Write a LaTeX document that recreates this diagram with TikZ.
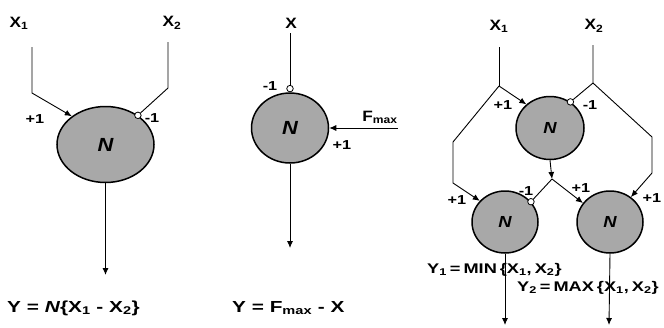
\documentclass[tikz,border=0pt]{standalone}
\usepackage{fontspec}
\setmainfont{Liberation Sans}[FakeStretch=1.15]
\usetikzlibrary{positioning,arrows.meta,shapes.geometric}
\definecolor{cellgray}{RGB}{168,168,168}
\newcommand{\subix}[1]{\textsubscript{#1}}
\newcommand{\tsp}{\hspace{3pt}}
\begin{document}
\begin{tikzpicture}[x=1pt,y=-1pt,>={Latex[length=7pt,width=6pt]},
  neuron/.style={ellipse,draw,line width=1.5pt,fill=cellgray,inner sep=0pt,font=\bfseries\itshape\fontsize{19}{19}\selectfont},
  small/.style={font=\bfseries\itshape\fontsize{16}{16}\selectfont},
  inh/.style={circle,draw,fill=white,line width=0.8pt,minimum size=6.5pt,inner sep=0pt},
  wt/.style={font=\bfseries\fontsize{13}{13}\selectfont\addfontfeature{FakeStretch=1.25},inner sep=0pt},
  sig/.style={font=\bfseries\fontsize{15}{15}\selectfont,inner sep=0pt},
  eqn/.style={font=\bfseries\fontsize{16}{16}\selectfont\addfontfeature{FakeStretch=1.3},inner sep=0pt,anchor=west},
  res/.style={font=\bfseries\fontsize{14}{14}\selectfont\addfontfeature{FakeStretch=1.3},inner sep=0pt,anchor=west},
  wire/.style={line width=0.9pt}]
\useasboundingbox[fill=white] (0,0) rectangle (664,327);
\node[sig] (xa) at (19,23) {X\subix1};
\node[sig] (xb) at (172,23) {X\subix2};
\node[neuron,minimum width=97pt,minimum height=76pt] (na) at (105.5,144.5) {N};
\node[inh] (ia) at (na.42) {};
\node[wt] (wa1) at (35,119) {+1}; \node[wt] (wa2) at (152,118) {-1};
\coordinate (ta) at (32,47); \coordinate (ka) at (32,93);
\coordinate (tb) at (168,42); \coordinate (kb) at (168,88);
\coordinate (ya) at (105.5,275);
\draw[wire,->] (ta)--(ka)--(na.140); \draw[wire] (tb)--(kb)--(ia);
\draw[wire,->] (na.south)--(ya);
\node[eqn] (ea) at (7,308) {Y = \textit{N}\{X\subix1 - X\subix2\}};
\node[sig] (xc) at (291,23) {X};
\node[neuron,minimum width=77pt,minimum height=70pt] (nb) at (290,128) {N};
\node[inh,anchor=south] (ib) at (nb.north) {};
\node[sig] (fm) at (380,117) {F\subix{max}};
\node[wt] (wb1) at (270,86) {-1}; \node[wt] (wb2) at (342,145) {+1};
\coordinate (tc) at (290,33); \coordinate (tf) at (398,128); \coordinate (yb) at (290,248);
\draw[wire] (tc)--(ib); \draw[wire,->] (tf)--(nb.east);
\draw[wire,->] (nb.south)--(yb);
\node[eqn] (eb) at (232,308) {Y = F\subix{max} - X};
\node[sig] (xd) at (499,26) {X\subix1};
\node[sig] (xe) at (594,26) {X\subix2};
\node[neuron,small,minimum width=68pt,minimum height=63pt] (nc) at (550,128) {N};
\node[neuron,small,minimum width=66pt,minimum height=62pt] (nd) at (505,222) {N};
\node[neuron,small,minimum width=66pt,minimum height=62pt] (ne) at (610,222) {N};
\node[inh] (ic) at (nc.52) {}; \node[inh] (id) at (nd.38) {};
\node[wt] (wc1) at (503,105) {+1}; \node[wt] (wc2) at (590,105) {-1};
\node[wt] (wd1) at (457,200) {+1}; \node[wt] (wd2) at (526,191) {-1};
\node[wt] (we1) at (581,188) {+1}; \node[wt] (we2) at (652,198) {+1};
\coordinate (td) at (499,47); \coordinate (kd) at (499,86);
\coordinate (ld1) at (453,142); \coordinate (ld2) at (453,183);
\coordinate (te) at (593,45); \coordinate (ke) at (593,83);
\coordinate (le1) at (652,137); \coordinate (le2) at (652,173);
\coordinate (jn) at (552,179); \coordinate (yd) at (505,325); \coordinate (ye) at (609,325);
\draw[wire] (td)--(kd); \draw[wire,->] (kd)--(nc.135);
\draw[wire,->] (kd)--(ld1)--(ld2)--(nd.140);
\draw[wire] (te)--(ke)--(ic);
\draw[wire,->] (ke)--(le1)--(le2)--(ne.50);
\draw[wire,->] (nc.south)--(jn);
\draw[wire] (jn)--(id); \draw[wire,->] (jn)--(ne.145);
\draw[wire,->] (nd.south)--(yd); \draw[wire,->] (ne.south)--(ye);
\node[res] (ed) at (427,270) {Y\subix1\tsp=\tsp MIN\tsp\{X\subix1,\tsp X\subix2\}};
\node[res] (ee) at (517,288) {Y\subix2\tsp=\tsp MAX\tsp\{X\subix1,\tsp X\subix2\}};
\end{tikzpicture}
\end{document}
